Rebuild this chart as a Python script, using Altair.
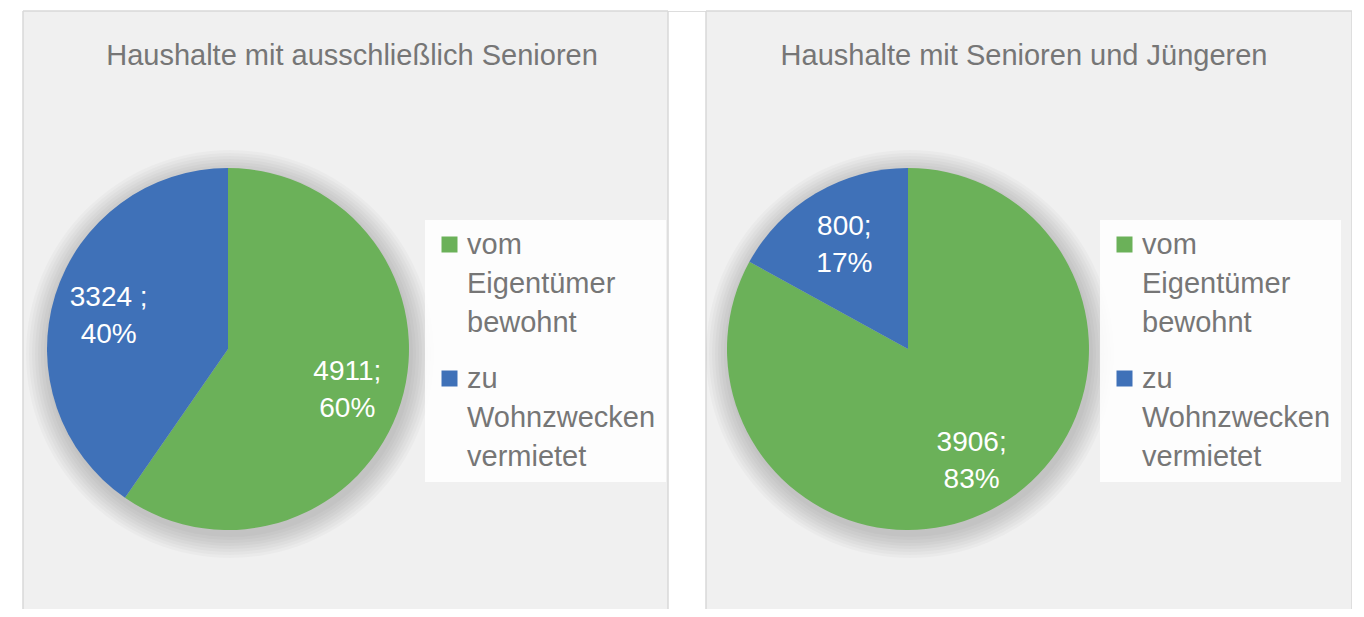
import altair as alt
import pandas as pd

# ---- data ----
titles = ["Haushalte mit ausschließlich Senioren", "Haushalte mit Senioren und Jüngeren"]
categories = ["vom Eigentümer bewohnt", "zu Wohnzwecken vermietet"]
values_left = [4911, 3324]
values_right = [3906, 800]
separators_left = [";", " ;"]
separators_right = [";", ";"]
colors = ["#6BB159", "#3F71B8"]
shadow_radii = [204, 201, 198, 195, 192, 189, 186, 183]

FONT = "Liberation Sans"
TEXT_GRAY = "#767676"
BORDER = "#d9d9d9"
H = 598
R = 181


def panel(title, values, seps, x0, W, cx, cy, lx, ly, tx):
    total = sum(values)
    df = pd.DataFrame({
        "Kategorie": categories,
        "Wert": values,
        "order": list(range(len(values))),
        "Label": [f"{v}{s}\n{round(100 * v / total)}%" for v, s in zip(values, seps)],
    })
    tdf = pd.DataFrame({"t": [title]})

    bg = alt.Chart(tdf).mark_rect(fill="#f0f0f0", strokeWidth=0).encode(
        x=alt.value(x0), x2=alt.value(x0 + W), y=alt.value(0), y2=alt.value(H + 40)
    )
    b_left = alt.Chart(tdf).mark_rule(color=BORDER, strokeWidth=1.5).encode(
        x=alt.value(x0), y=alt.value(0), y2=alt.value(H + 40)
    )
    b_right = alt.Chart(tdf).mark_rule(color=BORDER, strokeWidth=1.5).encode(
        x=alt.value(x0 + W), y=alt.value(0), y2=alt.value(H + 40)
    )
    b_top = alt.Chart(tdf).mark_rule(color=BORDER, strokeWidth=1.5).encode(
        x=alt.value(x0), x2=alt.value(x0 + W), y=alt.value(0)
    )
    ttl = alt.Chart(tdf).mark_text(font=FONT, fontSize=29, color=TEXT_GRAY).encode(
        text="t:N", x=alt.value(x0 + tx), y=alt.value(45)
    )
    shadows = [
        alt.Chart(tdf).mark_arc(
            theta=0, theta2=6.2832, radius=r, color="#000000", opacity=0.022
        ).encode(x=alt.value(x0 + cx + 2), y=alt.value(cy + 5))
        for r in shadow_radii
    ]

    base = alt.Chart(df)
    pie = base.mark_arc(radius=R, strokeWidth=0).encode(
        theta=alt.Theta("Wert:Q", stack=True),
        order=alt.Order("order:Q"),
        color=alt.Color(
            "Kategorie:N",
            scale=alt.Scale(domain=categories, range=colors),
            legend=alt.Legend(
                title=None,
                orient="none",
                legendX=x0 + lx,
                legendY=ly,
                labelExpr="split(datum.label, ' ')",
                labelFont=FONT,
                labelFontSize=29,
                labelColor=TEXT_GRAY,
                labelLimit=400,
                labelOffset=3,
                symbolType="square",
                symbolSize=256,
                symbolStrokeWidth=0,
                symbolOpacity=1,
                rowPadding=26,
                padding=10,
                fillColor="rgba(255,255,255,0.85)",
            ),
        ),
        x=alt.value(x0 + cx),
        y=alt.value(cy),
    )
    labels = base.mark_text(
        radius=125, font=FONT, fontSize=28, color="white", lineBreak="\n", lineHeight=37, dy=-14
    ).encode(
        theta=alt.Theta("Wert:Q", stack=True),
        order=alt.Order("order:Q"),
        text="Label:N",
        x=alt.value(x0 + cx),
        y=alt.value(cy),
    )
    return alt.layer(bg, b_left, b_right, b_top, ttl, *shadows, pie, labels)


left = panel(titles[0], values_left, separators_left, 0, 645, 205, 338, 402, 209, 329)
right = panel(titles[1], values_right, separators_right, 683, 646, 202, 338, 394, 209, 318)

chart = (
    alt.layer(left, right)
    .resolve_scale(color="independent", theta="independent")
    .resolve_legend(color="independent")
    .properties(
        width=1329,
        height=H,
        padding={"left": 15, "top": 3, "right": 0, "bottom": 0},
        autosize=alt.AutoSizeParams(type="none"),
    )
    .configure_view(stroke=None)
    .configure(font=FONT, style={"guide-label": {"lineHeight": 39}})
)

chart.save("out.html", embed_options={"renderer": "svg", "actions": False})
